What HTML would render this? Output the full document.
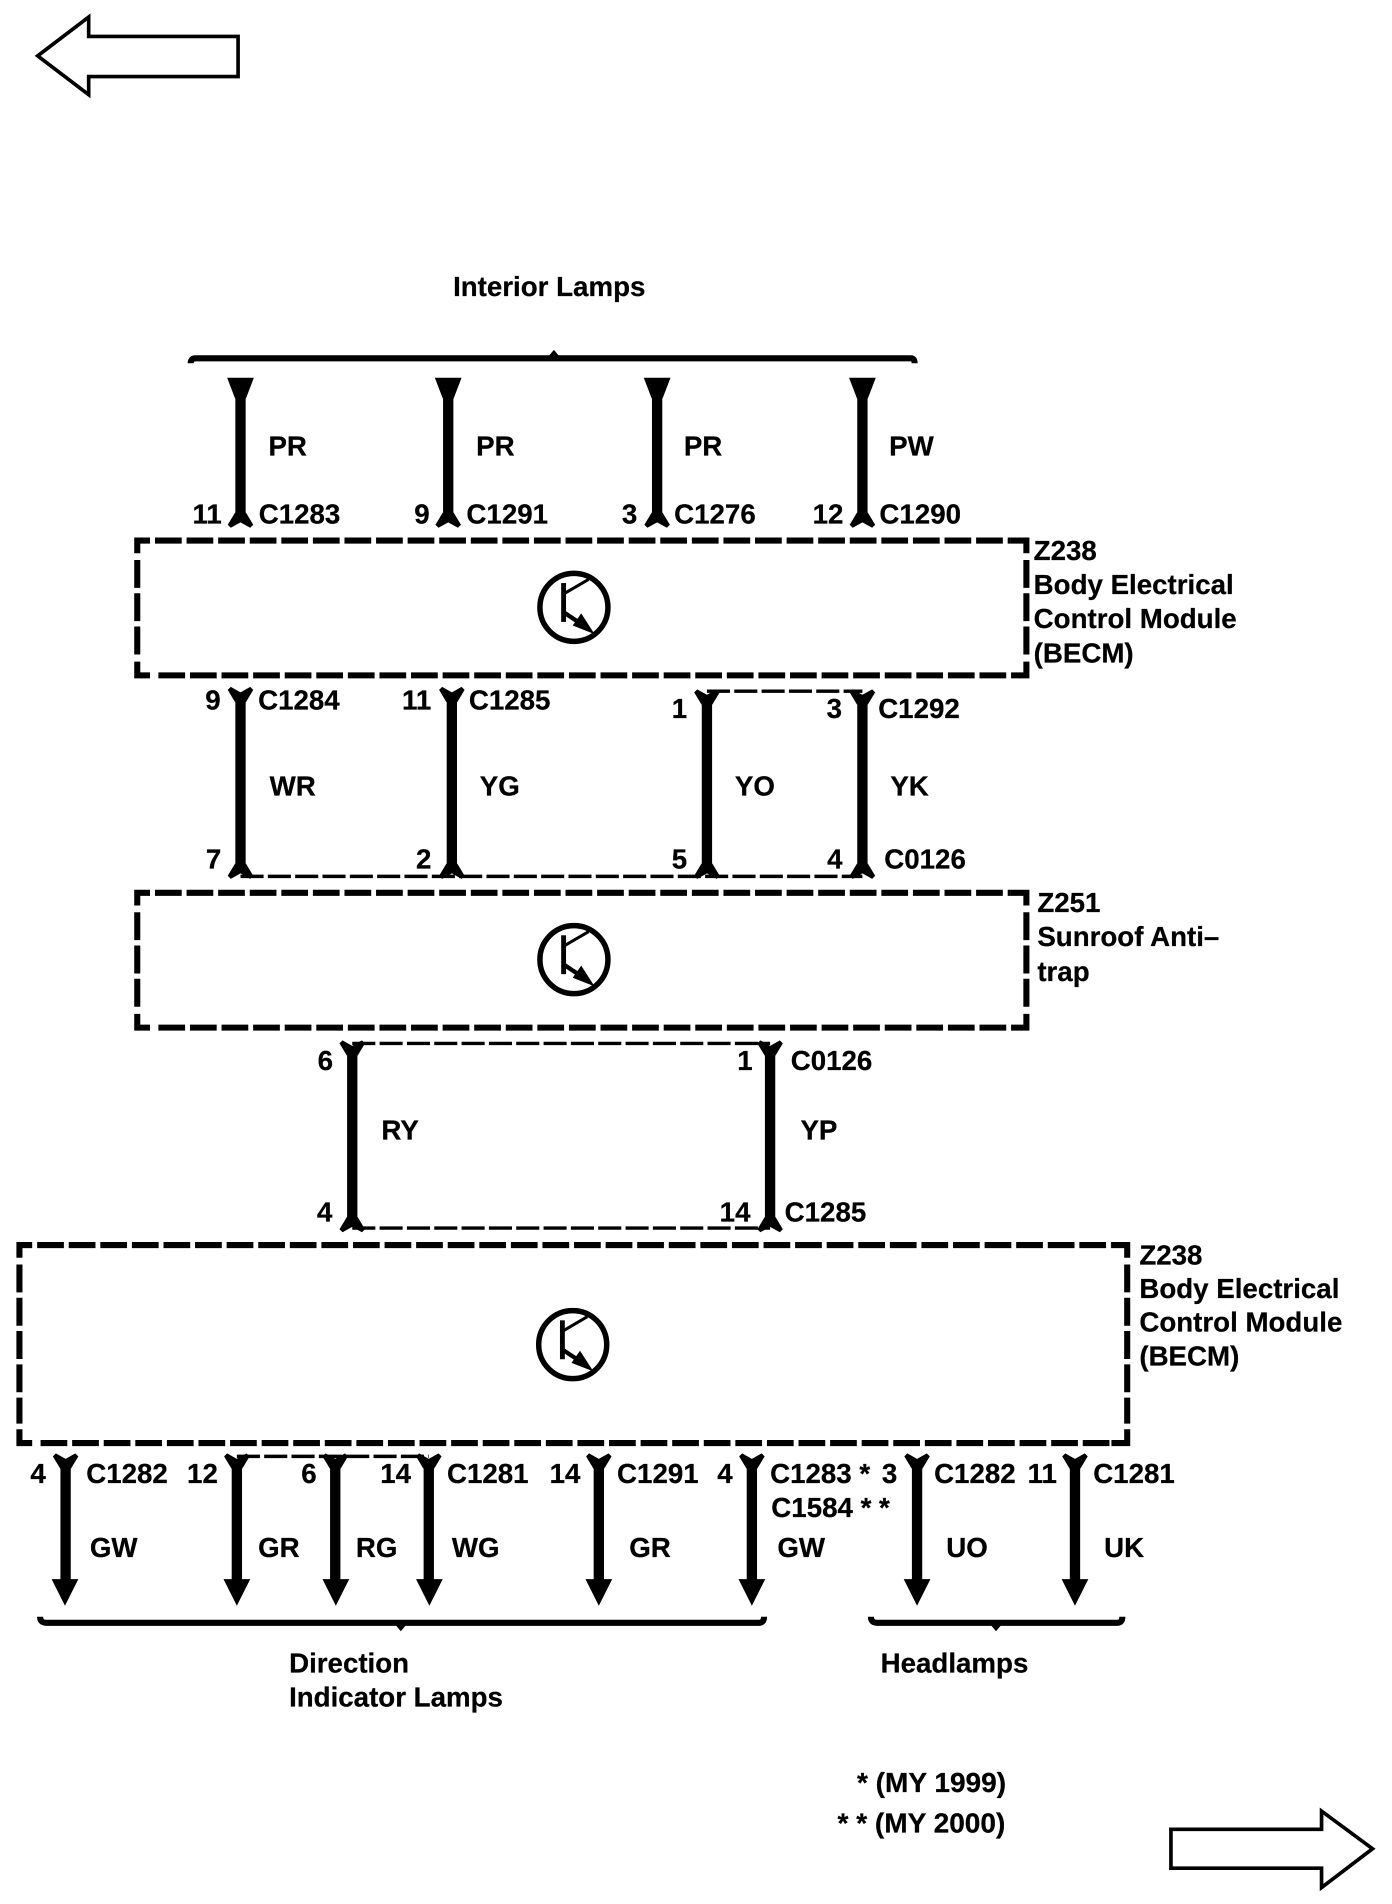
<!DOCTYPE html>
<html><head><meta charset="utf-8"><style>
html,body{margin:0;padding:0;background:#fff}
svg{display:block}
text{font-family:"Liberation Sans",sans-serif;font-weight:bold;font-size:22.8px;fill:#000;stroke:#000;stroke-width:.2px}
</style></head><body>
<svg xmlns="http://www.w3.org/2000/svg" width="1392" height="1904" viewBox="0 0 1146 1567.5">
<defs>
<polygon id="ft" points="-10.5,1 -8,-1.5 0,3 8,-1.5 10.5,1 4.5,11 -4.5,11"/>
<polygon id="fb" points="-10.5,-1 -8,1.5 0,-3 8,1.5 10.5,-1 4.5,-11 -4.5,-11"/>
<polygon id="ah" points="-11,0 11,0 0,22"/>
<polygon id="tri" points="-11,0 11,0 4.5,17 -4.5,17"/>
<g id="tr">
<circle r="28" fill="none" stroke="#000" stroke-width="4.5"/>
<path d="M-8.5,-20V12" stroke="#000" stroke-width="4" fill="none"/>
<path d="M-8.5,-11L12,-23" stroke="#000" stroke-width="2.5" fill="none"/>
<path d="M-8.5,4L8,15" stroke="#000" stroke-width="3.5" fill="none"/>
<polygon points="17,22 -1,15 6,5"/>
</g>
<g id="box" fill="none" stroke="#000" stroke-width="5">
<path d="M123.5,445H113V455.5M845,455.5V445H832M123.5,556H113V544.7M845,544.7V556H832.4"/>
<path d="M127.6,445H832M130.4,556H832.4" stroke-dasharray="22 4"/>
<path d="M113,461V540M845,461V540" stroke-dasharray="23 4.4"/>
</g>
</defs>
<g fill="#fff" stroke="#000" stroke-width="3">
<polygon points="31,46 73,14 73,30 196,30 196,63 73,63 73,78"/>
<polygon points="964,1506 1088,1506 1088,1491 1130,1522 1088,1554 1088,1538 964,1538"/>
</g>
<!-- brackets -->
<g fill="none" stroke="#000" stroke-width="5">
<path d="M157,299Q157,295 161,295H750Q753,295 753,299"/>
<path d="M33,1331Q33,1336 38,1336H625Q629,1336 629,1331"/>
<path d="M717,1331Q717,1336 722,1336H920Q924,1336 924,1331"/>
</g>
<polygon points="451,294 456,288 461,294"/>
<polygon points="325,1337 330,1343 335,1337"/>
<polygon points="815,1337 820,1343 825,1337"/>
<!-- module boxes -->
<use href="#box"/>
<use href="#box" y="290"/>
<g fill="none" stroke="#000" stroke-width="5">
<path d="M26.5,1025H16V1035.5M928,1035.5V1025H915M26.5,1188H16V1176.7M928,1176.7V1188H915"/>
<path d="M30.6,1025H915M33.4,1188H915" stroke-dasharray="22 4"/>
<path d="M16,1041V1172M928,1041V1172" stroke-dasharray="23 4.4"/>
</g>
<use href="#tr" x="472.5" y="500"/><use href="#tr" x="472.5" y="790"/><use href="#tr" x="471.5" y="1107"/>
<!-- thin dashed links -->
<g fill="none" stroke="#000" stroke-width="2.8" stroke-dasharray="19 3.5">
<path d="M582,569H710M198,721.5H710M290,859H634M290,1011H634M195,1199H353"/>
</g>
<!-- wires -->
<g stroke="#000" stroke-width="8.5">
<path d="M198,325V428M369,325V428M541,325V428M710,325V428"/>
<path d="M198,570V718M372,570V718M582,572V718M710,572V718"/>
<path d="M290,862V1008M634,862V1008"/>
<path d="M54,1202V1303M195,1202V1303M276,1202V1303M353,1202V1303M493,1202V1303M619,1202V1303M755,1202V1303M885,1202V1303"/>
</g>
<use href="#tri" x="198" y="311"/><use href="#tri" x="369" y="311"/><use href="#tri" x="541" y="311"/><use href="#tri" x="710" y="311"/>
<use href="#fb" x="198" y="433"/><use href="#fb" x="369" y="433"/><use href="#fb" x="541" y="433"/><use href="#fb" x="710" y="433"/>
<use href="#ft" x="198" y="567"/><use href="#ft" x="372" y="567"/><use href="#ft" x="582" y="569"/><use href="#ft" x="710" y="569"/>
<use href="#fb" x="198" y="722"/><use href="#fb" x="372" y="722"/><use href="#fb" x="582" y="722"/><use href="#fb" x="710" y="722"/>
<use href="#ft" x="290" y="858"/><use href="#ft" x="634" y="858"/>
<use href="#fb" x="290" y="1013"/><use href="#fb" x="634" y="1013"/>
<use href="#ft" x="54" y="1198"/><use href="#ft" x="195" y="1198"/><use href="#ft" x="276" y="1198"/><use href="#ft" x="353" y="1198"/><use href="#ft" x="493" y="1198"/><use href="#ft" x="619" y="1198"/><use href="#ft" x="755" y="1198"/><use href="#ft" x="885" y="1198"/>
<use href="#ah" x="53.5" y="1300"/><use href="#ah" x="195" y="1300"/><use href="#ah" x="276.5" y="1300"/><use href="#ah" x="353.5" y="1300"/><use href="#ah" x="493" y="1300"/><use href="#ah" x="619" y="1300"/><use href="#ah" x="755" y="1300"/><use href="#ah" x="885" y="1300"/>
<!-- labels -->
<text x="373" y="243.5">Interior Lamps</text>
<text x="221" y="375">PR</text><text x="392" y="375">PR</text><text x="563" y="375">PR</text><text x="732" y="375">PW</text>
<text x="158.5" y="431">11</text><text x="213" y="431">C1283</text>
<text x="341" y="431">9</text><text x="384" y="431">C1291</text>
<text x="512" y="431">3</text><text x="555" y="431">C1276</text>
<text x="669" y="431">12</text><text x="724" y="431">C1290</text>
<text x="851" y="461">Z238</text><text x="851" y="489">Body Electrical</text><text x="851" y="517">Control Module</text><text x="851" y="545.5">(BECM)</text>
<text x="169" y="584">9</text><text x="212.5" y="584">C1284</text>
<text x="331" y="584">11</text><text x="386" y="584">C1285</text>
<text x="553" y="591">1</text><text x="680.5" y="591">3</text><text x="723" y="591">C1292</text>
<text x="222" y="655">WR</text><text x="395" y="655">YG</text><text x="605" y="655">YO</text><text x="733" y="655">YK</text>
<text x="169.5" y="715">7</text><text x="342.5" y="715">2</text><text x="553" y="715">5</text><text x="681" y="715">4</text><text x="728" y="715">C0126</text>
<text x="854" y="751">Z251</text><text x="854" y="779">Sunroof Anti–</text><text x="854" y="807.5">trap</text>
<text x="261.5" y="881">6</text><text x="607" y="881">1</text><text x="651" y="881">C0126</text>
<text x="314" y="938">RY</text><text x="659" y="938">YP</text>
<text x="261" y="1005.5">4</text><text x="592.5" y="1005.5">14</text><text x="646" y="1005.5">C1285</text>
<text x="938" y="1041">Z238</text><text x="938" y="1068.5">Body Electrical</text><text x="938" y="1096">Control Module</text><text x="938" y="1124">(BECM)</text>
<text x="25" y="1221">4</text><text x="71" y="1221">C1282</text>
<text x="154" y="1221">12</text><text x="248" y="1221">6</text><text x="313" y="1221">14</text><text x="368" y="1221">C1281</text>
<text x="452.5" y="1221">14</text><text x="508" y="1221">C1291</text>
<text x="590.5" y="1221">4</text><text x="634" y="1221">C1283 *</text><text x="726" y="1221">3</text>
<text x="769" y="1221">C1282</text><text x="846" y="1221">11</text><text x="900" y="1221">C1281</text>
<text x="635" y="1249">C1584 * *</text>
<text x="74" y="1282">GW</text><text x="212.5" y="1282">GR</text><text x="293" y="1282">RG</text><text x="372" y="1282">WG</text><text x="518" y="1282">GR</text><text x="640" y="1282">GW</text><text x="779" y="1282">UO</text><text x="909" y="1282">UK</text>
<text x="238" y="1377">Direction</text><text x="238" y="1405">Indicator Lamps</text>
<text x="725" y="1377">Headlamps</text>
<text x="705.5" y="1475.5" style="font-size:23.1px">* (MY 1999)</text>
<text x="689.5" y="1508.5" style="font-size:23.1px">* * (MY 2000)</text>
</svg>
</body></html>
